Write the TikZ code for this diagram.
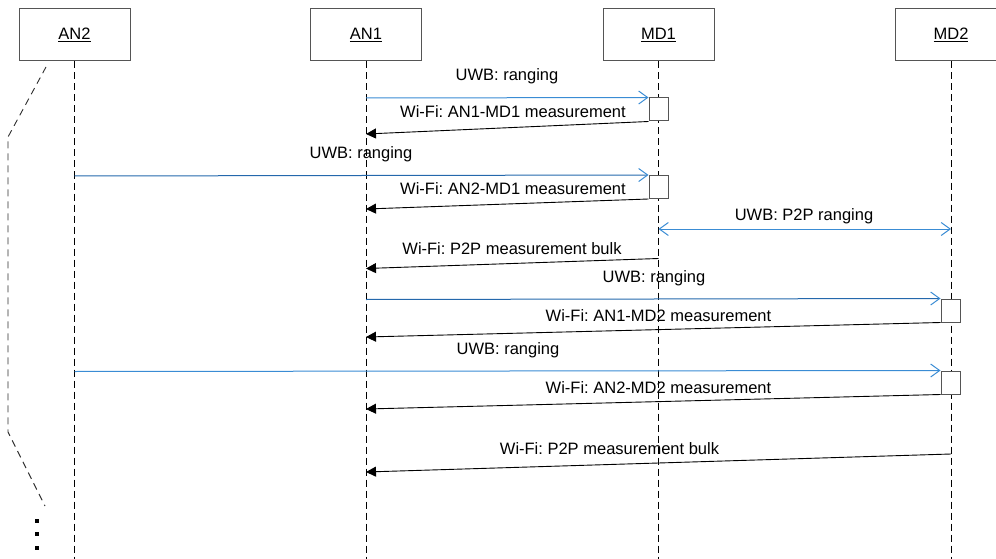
\documentclass[tikz,border=0pt]{standalone}
\usepackage{fontspec}
\setmainfont{Liberation Sans}
\usetikzlibrary{arrows.meta}
\definecolor{uwb}{RGB}{58,140,212}
\definecolor{uwbdark}{RGB}{36,104,172}
\definecolor{boxgray}{RGB}{85,85,85}
\definecolor{brk}{RGB}{45,45,45}
\frenchspacing
\begin{document}
\frenchspacing
\begin{tikzpicture}[x=1pt,y=-1pt,
  actor/.style={draw=boxgray, line width=1pt, minimum width=111pt, minimum height=52pt, inner sep=0pt, font=\fontsize{16.5}{19}\selectfont},
  act/.style={draw=boxgray, fill=white, line width=1pt, minimum width=19pt, minimum height=23pt, inner sep=0pt},
  life/.style={line width=0.9pt, dash pattern=on 7pt off 4pt},
  wifi/.style={line width=0.9pt, -{Triangle[length=10pt,width=10pt]}},
  uwbmsg/.style={line width=1pt, -{Straight Barb[length=9pt,width=13pt,color=uwb]}},
  uwbboth/.style={line width=1pt, draw=uwb, {Straight Barb[length=9pt,width=13pt]}-{Straight Barb[length=9pt,width=13pt]}},
  lbl/.style={anchor=base, inner sep=0pt, font=\fontsize{16.5}{19}\selectfont},
  dotsq/.style={rectangle, fill=black, minimum size=4.6pt, inner sep=0pt},
  bracket/.style={draw=brk, line width=0.9pt, dash pattern=on 7pt off 5pt}]
\useasboundingbox (0,0) rectangle (996,559);

% actors
\node[actor] (an2) at (74.5,35) {\underline{AN2}};
\node[actor] (an1) at (366,35) {\underline{AN1}};
\node[actor] (md1) at (658.5,35) {\underline{MD1}};
\node[actor] (md2) at (951,35) {\underline{MD2}};

% lifeline ends
\coordinate (an2e) at (74.5,559);
\coordinate (an1e) at (366,559);
\coordinate (md1e) at (658.5,559);
\coordinate (md2e) at (951,559);
\draw[life] (an2.south) -- (an2e);
\draw[life] (an1.south) -- (an1e);
\draw[life] (md1.south) -- (md1e);
\draw[life] (md2.south) -- (md2e);

% activation boxes
\node[act] (act1) at (658.5,109.5) {};
\node[act] (act2) at (658.5,187) {};
\node[act] (act3) at (950.5,310.5) {};
\node[act] (act4) at (950.5,382.5) {};

% message end points on lifelines
\coordinate (p1) at (366,98);
\coordinate (p2) at (366,134);
\coordinate (p3) at (74.5,176);
\coordinate (p5) at (366,209);
\coordinate (p6a) at (658.5,229);
\coordinate (p6b) at (951,229);
\coordinate (p7a) at (658.5,258.5);
\coordinate (p7b) at (366,268.5);
\coordinate (p8) at (366,299.5);
\coordinate (p9) at (366,337);
\coordinate (p10) at (74.5,371.5);
\coordinate (p12) at (366,409);
\coordinate (p13a) at (951,454);
\coordinate (p13b) at (366,472);

% messages
\draw[uwbmsg, draw=uwb] (p1) -- (act1.north west);
\draw[wifi] (act1.south west) -- (p2);
\draw[uwbmsg, draw=uwbdark] (p3) -- (act2.north west);
\draw[wifi] (act2.south west) -- (p5);
\draw[uwbboth] (p6a) -- (p6b);
\draw[wifi] (p7a) -- (p7b);
\draw[uwbmsg, draw=uwbdark] (p8) -- (act3.north west);
\draw[wifi] (act3.south west) -- (p9);
\draw[uwbmsg, draw=uwb] (p10) -- (act4.north west);
\draw[wifi] (act4.south west) -- (p12);
\draw[wifi] (p13a) -- (p13b);

% labels
\node[lbl] (t1) at (507,81) {UWB: ranging};
\node[lbl] (t2) at (513,118) {Wi-Fi: AN1-MD1 measurement};
\node[lbl] (t3) at (361,158) {UWB: ranging};
\node[lbl] (t5) at (513,194) {Wi-Fi: AN2-MD1 measurement};
\node[lbl] (t6) at (804,220) {UWB: P2P ranging};
\node[lbl] (t7) at (512,254) {Wi-Fi: P2P measurement bulk};
\node[lbl] (t8) at (654,282) {UWB: ranging};
\node[lbl] (t9) at (658.5,321) {Wi-Fi: AN1-MD2 measurement};
\node[lbl] (t10) at (508,354) {UWB: ranging};
\node[lbl] (t12) at (658.5,393) {Wi-Fi: AN2-MD2 measurement};
\node[lbl] (t13) at (609.5,454) {Wi-Fi: P2P measurement bulk};

% left bracket
\coordinate (b1) at (46,67);
\coordinate (b2) at (8,137);
\coordinate (b3) at (8,432);
\coordinate (b4) at (45,506);
\draw[bracket] (b1) -- (b2) -- (b3) -- (b4);

% continuation dots
\node[dotsq] (d1) at (37,521) {};
\node[dotsq] (d2) at (37,534) {};
\node[dotsq] (d3) at (37,548) {};
\end{tikzpicture}
\end{document}
